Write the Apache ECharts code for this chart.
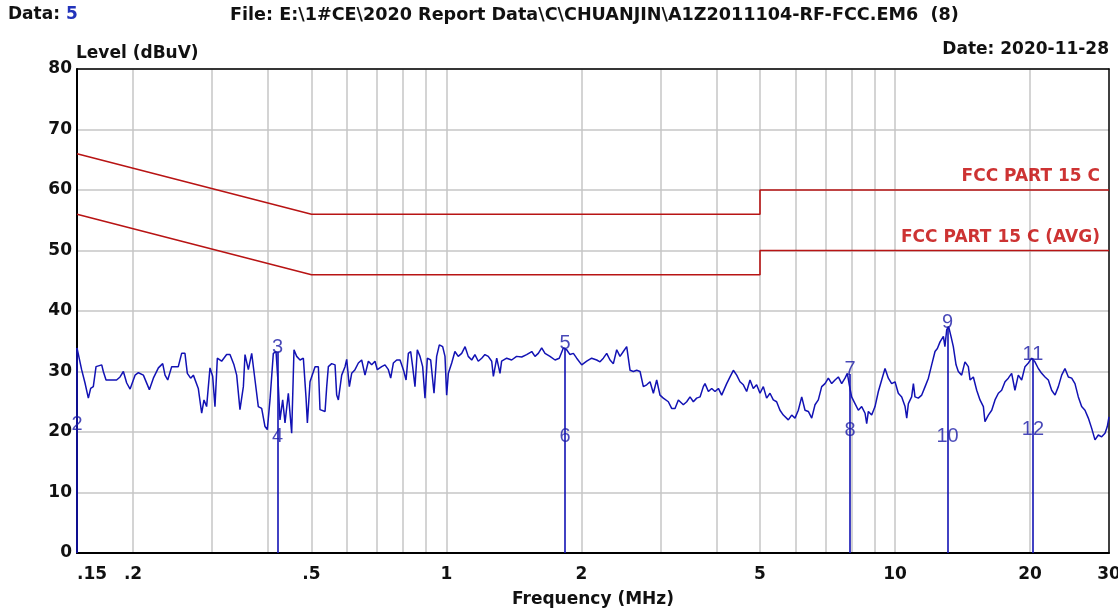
<!DOCTYPE html>
<html>
<head>
<meta charset="utf-8">
<script src="https://cdn.jsdelivr.net/npm/echarts@6/dist/echarts.min.js"></script>
<style>
html, body { margin: 0; padding: 0; background: #fff; }
#chart { width: 1118px; height: 613px; }
</style>
</head>
<body>
<div id="chart"></div>
<script>
// scan trace (MHz / dBuV)
const freqMHz = [
  0.150, 0.151, 0.1536, 0.1563, 0.159, 0.1609, 0.1631, 0.1654, 0.1703, 0.1717,
  0.1741, 0.1838, 0.1871, 0.1903, 0.1936, 0.197, 0.2021, 0.2056, 0.2109, 0.2175,
  0.222, 0.2278, 0.2329, 0.2357, 0.239, 0.2439, 0.2523, 0.2567, 0.2611, 0.2643,
  0.2688, 0.2726, 0.2796, 0.2845, 0.2879, 0.2918, 0.2969, 0.301, 0.3046, 0.3083,
  0.3152, 0.3234, 0.329, 0.3358, 0.3405, 0.3463, 0.3524, 0.3554, 0.3615, 0.3678,
  0.3741, 0.3805, 0.3871, 0.3938, 0.3985, 0.404, 0.411, 0.4167, 0.4217, 0.4253,
  0.4312, 0.4364, 0.4439, 0.4516, 0.457, 0.4634, 0.4714, 0.4795, 0.4862, 0.4895,
  0.4962, 0.5092, 0.5179, 0.5223, 0.536, 0.5406, 0.5452, 0.5546, 0.5642, 0.569,
  0.5739, 0.5838, 0.5939, 0.599, 0.6072, 0.6145, 0.6251, 0.636, 0.6469, 0.658,
  0.6695, 0.681, 0.6927, 0.701, 0.7169, 0.7292, 0.7419, 0.7508, 0.7611, 0.7744,
  0.7877, 0.8013, 0.8124, 0.8221, 0.832, 0.8404, 0.8505, 0.8607, 0.8727, 0.8847,
  0.8954, 0.9062, 0.9219, 0.9378, 0.9506, 0.9638, 0.9804, 0.9922, 1.0007, 1.0095,
  1.027, 1.044, 1.062, 1.081, 1.100, 1.118, 1.138, 1.157, 1.177, 1.198,
  1.218, 1.239, 1.261, 1.272, 1.294, 1.316, 1.327, 1.362, 1.397, 1.433,
  1.471, 1.509, 1.549, 1.575, 1.602, 1.630, 1.658, 1.701, 1.746, 1.784,
  1.822, 1.853, 1.885, 1.918, 1.951, 2.002, 2.054, 2.107, 2.162, 2.199,
  2.237, 2.276, 2.315, 2.355, 2.396, 2.437, 2.479, 2.522, 2.544, 2.566,
  2.610, 2.655, 2.701, 2.747, 2.795, 2.843, 2.892, 2.942, 2.992, 3.044,
  3.123, 3.177, 3.232, 3.288, 3.373, 3.432, 3.491, 3.551, 3.612, 3.675,
  3.738, 3.770, 3.836, 3.902, 3.969, 4.038, 4.107, 4.214, 4.287, 4.361,
  4.436, 4.512, 4.590, 4.669, 4.750, 4.831, 4.914, 5.000, 5.086, 5.173,
  5.263, 5.353, 5.445, 5.540, 5.636, 5.782, 5.883, 5.984, 6.087, 6.194,
  6.300, 6.408, 6.520, 6.632, 6.745, 6.863, 6.981, 7.101, 7.225, 7.349,
  7.475, 7.605, 7.736, 7.829, 7.908, 8.004, 8.143, 8.284, 8.427, 8.574,
  8.647, 8.721, 8.871, 9.025, 9.180, 9.338, 9.500, 9.663, 9.829, 10.00,
  10.17, 10.35, 10.53, 10.62, 10.71, 10.89, 10.99, 11.08, 11.27, 11.47,
  11.67, 11.87, 12.07, 12.28, 12.43, 12.60, 12.82, 12.92, 13.04, 13.17,
  13.33, 13.49, 13.68, 13.84, 14.08, 14.32, 14.57, 14.70, 14.95, 15.21,
  15.47, 15.74, 15.87, 16.15, 16.43, 16.71, 17.00, 17.29, 17.59, 17.89,
  18.20, 18.51, 18.83, 19.16, 19.49, 19.83, 20.17, 20.51, 20.87, 21.23,
  21.60, 21.97, 22.35, 22.74, 23.13, 23.53, 23.93, 24.35, 24.77, 25.19,
  25.63, 26.07, 26.52, 26.98, 27.45, 27.92, 28.40, 28.89, 29.39, 29.74,
  30.00
];
const levelDb = [
  33.9, 33.6, 30.3, 28.1, 25.6, 27.2, 27.5, 30.8, 31.1, 30.0,
  28.6, 28.6, 29.1, 30.0, 28.1, 27.1, 29.4, 29.8, 29.4, 27.0,
  28.9, 30.6, 31.3, 29.4, 28.6, 30.8, 30.8, 33.0, 33.0, 29.7,
  28.9, 29.4, 27.2, 23.1, 25.3, 24.2, 30.6, 29.2, 24.2, 32.2,
  31.7, 32.8, 32.8, 31.1, 29.4, 23.7, 27.5, 32.8, 30.3, 33.0,
  28.6, 24.2, 23.9, 20.9, 20.4, 25.3, 33.0, 33.3, 27.5, 22.0,
  25.3, 21.5, 26.4, 19.8, 33.6, 32.5, 31.9, 32.2, 25.6, 21.5,
  28.3, 30.8, 30.8, 23.7, 23.4, 27.5, 30.8, 31.3, 31.1, 26.1,
  25.3, 29.4, 30.8, 32.0, 27.5, 29.7, 30.3, 31.4, 31.9, 29.4,
  31.7, 31.1, 31.7, 30.3, 30.8, 31.1, 30.3, 28.9, 31.4, 31.9,
  31.9, 30.3, 28.6, 33.0, 33.3, 30.8, 27.5, 33.6, 32.5, 30.8,
  25.6, 32.2, 31.9, 26.4, 32.5, 34.4, 34.1, 32.5, 26.1, 29.7,
  31.4, 33.3, 32.5, 33.0, 34.1, 32.5, 31.9, 32.8, 31.7, 32.2,
  32.8, 32.5, 31.7, 29.2, 32.2, 29.7, 31.7, 32.2, 31.9, 32.5,
  32.4, 32.8, 33.3, 32.5, 33.0, 33.9, 33.0, 32.5, 31.9, 32.2,
  33.9, 33.6, 32.8, 33.0, 32.2, 31.1, 31.7, 32.2, 31.9, 31.6,
  32.2, 33.0, 31.9, 31.3, 33.6, 32.5, 33.3, 34.1, 34.1, 30.2,
  30.0, 30.2, 30.0, 27.5, 27.8, 28.3, 26.4, 28.6, 26.1, 25.6,
  25.0, 23.9, 23.9, 25.3, 24.5, 25.0, 25.8, 25.0, 25.6, 25.8,
  27.5, 28.0, 26.7, 27.2, 26.7, 27.2, 26.1, 28.0, 29.1, 30.2,
  29.4, 28.3, 27.8, 26.7, 28.6, 27.2, 27.8, 26.4, 27.5, 25.6,
  26.4, 25.3, 25.0, 23.6, 22.8, 22.0, 22.8, 22.3, 23.6, 25.8,
  23.6, 23.4, 22.3, 24.5, 25.3, 27.5, 28.0, 28.9, 28.0, 28.6,
  29.1, 28.0, 28.9, 29.7, 27.8, 25.8, 24.7, 23.6, 24.2, 23.1,
  21.4, 23.4, 22.8, 24.2, 26.7, 28.6, 30.5, 28.9, 28.0, 28.3,
  26.4, 25.8, 24.2, 22.3, 24.7, 25.8, 28.0, 25.8, 25.6, 26.1,
  27.5, 28.9, 31.1, 33.3, 33.8, 34.9, 35.8, 34.1, 36.9, 37.4,
  35.8, 34.1, 31.1, 30.0, 29.4, 31.6, 30.8, 28.6, 29.1, 26.9,
  25.3, 24.2, 21.7, 22.8, 23.6, 25.3, 26.4, 26.9, 28.3, 28.9,
  29.7, 26.9, 29.4, 28.6, 30.8, 31.4, 32.2, 31.6, 30.5, 29.7,
  29.1, 28.6, 26.9, 26.1, 27.5, 29.4, 30.5, 29.1, 28.9, 28.0,
  25.8, 24.2, 23.6, 22.3, 20.6, 18.7, 19.5, 19.2, 19.8, 20.9,
  22.5
];

// FCC part 15 C limits
const qpLimitFreq = [0.15, 0.5, 5, 5, 30];
const qpLimitLevel = [66, 56, 56, 60, 60];
const avgLimitFreq = [0.15, 0.5, 5, 5, 30];
const avgLimitLevel = [56, 46, 46, 50, 50];

// markers (QP peak / AVG reading)
const markerFreq = [0.15, 0.42, 1.837, 7.94, 13.1, 20.3];
const markerQp = [33.9, 33.3, 33.9, 29.6, 37.4, 32.2];
const markerAvg = [21.2, 19.3, 19.2, 20.3, 19.3, 20.4];
const markerQpText = ['', '3', '5', '7', '9', '11'];
const markerAvgText = ['2', '4', '6', '8', '10', '12'];

const xTickFreq = [0.15, 0.2, 0.5, 1, 2, 5, 10, 20, 30];
const xTickText = ['.15', '.2', '.5', '1', '2', '5', '10', '20', '30'];
const xGridFreq = [0.2, 0.3, 0.4, 0.5, 0.6, 0.7, 0.8, 0.9, 1, 2, 3, 4, 5, 6, 7, 8, 9, 10, 20];

const lg = Math.log10;
const BLUE = '#1212b4';
const MARK = '#1a1aa6';
const RED = '#c00000';
const LIMIT = '#b81414';
const FONT = '"DejaVu Sans", "Liberation Sans", Arial, sans-serif';
const BOLD = 'bold 17px ' + FONT;

const chart = echarts.init(document.getElementById('chart'));

function pairs(fs, vs) {
  return fs.map((f, i) => [lg(f), vs[i]]);
}

// plain frame axes for the top and right edges
const frameX = {
  type: 'value', position: 'top', min: lg(0.15), max: lg(30),
  axisLine: { show: true, onZero: false, lineStyle: { color: '#000', width: 1.5 } },
  axisTick: { show: false }, axisLabel: { show: false }, splitLine: { show: false }
};
const frameY = {
  type: 'value', position: 'right', min: 0, max: 80,
  axisLine: { show: true, onZero: false, lineStyle: { color: '#000', width: 1.5 } },
  axisTick: { show: false }, axisLabel: { show: false }, splitLine: { show: false }
};

chart.setOption({
  animation: false,
  backgroundColor: '#fff',
  grid: {
    left: 77, right: 9, top: 69, bottom: 60,
    outerBoundsMode: 'none',
    containLabel: false
  },
  xAxis: [{
    type: 'value',
    min: lg(0.15),
    max: lg(30),
    name: 'Frequency (MHz)',
    nameLocation: 'middle',
    nameGap: 38,
    nameTextStyle: { color: '#111', fontFamily: FONT, fontWeight: 'bold', fontSize: 17 },
    axisLine: { show: true, onZero: false, lineStyle: { color: '#000', width: 2 } },
    axisTick: { show: false, customValues: xGridFreq.map(lg) },
    splitLine: { show: true, lineStyle: { color: '#c6c6c6', width: 1.5 } },
    axisLabel: {
      customValues: xTickFreq.map(lg),
      color: '#111', fontFamily: FONT, fontWeight: 'bold', fontSize: 17,
      margin: 13,
      alignMinLabel: 'left',
      formatter: function (v) {
        let best = 0;
        xTickFreq.forEach((f, i) => {
          if (Math.abs(lg(f) - v) < Math.abs(lg(xTickFreq[best]) - v)) best = i;
        });
        return xTickText[best];
      }
    }
  }, frameX],
  yAxis: [{
    type: 'value',
    min: 0, max: 80, interval: 10,
    axisLine: { show: true, onZero: false, lineStyle: { color: '#000', width: 2 } },
    axisTick: { show: false },
    splitLine: { show: true, lineStyle: { color: '#c6c6c6', width: 1.5 } },
    axisLabel: { color: '#111', fontFamily: FONT, fontWeight: 'bold', fontSize: 17, margin: 5 }
  }, frameY],
  graphic: [
    {
      type: 'text', left: 8, top: 6,
      style: {
        text: 'Data: {n|5}',
        font: BOLD, fill: '#111',
        rich: { n: { fill: '#2233bb', font: BOLD } }
      }
    },
    {
      type: 'text', left: 230, top: 6,
      style: {
        text: 'File: E:\\1#CE\\2020 Report Data\\C\\CHUANJIN\\A1Z2011104-RF-FCC.EM6  (8)',
        font: 'bold 17.6px ' + FONT, fill: '#111'
      }
    },
    {
      type: 'text', left: 76, top: 45,
      style: { text: 'Level (dBuV)', font: BOLD, fill: '#111' }
    },
    {
      type: 'text', right: 9, top: 41,
      style: { text: 'Date: 2020-11-28', font: BOLD, fill: '#111' }
    }
  ],
  series: [
    {
      name: 'FCC PART 15 C',
      type: 'line',
      data: pairs(qpLimitFreq, qpLimitLevel),
      symbol: 'none',
      lineStyle: { color: LIMIT, width: 1.6 },
      z: 3
    },
    {
      name: 'FCC PART 15 C (AVG)',
      type: 'line',
      data: pairs(avgLimitFreq, avgLimitLevel),
      symbol: 'none',
      lineStyle: { color: LIMIT, width: 1.6 },
      z: 3
    },
    {
      name: 'Level',
      type: 'line',
      data: pairs(freqMHz, levelDb),
      symbol: 'none',
      lineStyle: { color: BLUE, width: 1.5 },
      markLine: {
        silent: true,
        symbol: ['none', 'none'],
        label: { show: false },
        lineStyle: { color: BLUE, width: 1.6, type: 'solid' },
        data: markerFreq.map((f, i) => [
          { coord: [lg(f), 0] },
          { coord: [lg(f), markerQp[i]] }
        ])
      },
      z: 4
    },
    {
      name: 'marker QP',
      type: 'scatter',
      symbolSize: 0,
      data: pairs(markerFreq, markerQp),
      label: {
        show: true, position: 'inside', offset: [0, -4],
        color: MARK, fontFamily: '"Liberation Sans", Arial, sans-serif', fontSize: 20,
        formatter: p => markerQpText[p.dataIndex]
      },
      z: 5
    },
    {
      name: 'marker AVG',
      type: 'scatter',
      symbolSize: 0,
      data: pairs(markerFreq, markerAvg),
      label: {
        show: true, position: 'inside',
        color: MARK, fontFamily: '"Liberation Sans", Arial, sans-serif', fontSize: 20,
        formatter: p => markerAvgText[p.dataIndex]
      },
      z: 5
    },
    {
      name: 'limit labels',
      type: 'scatter',
      symbolSize: 0,
      data: [[lg(30), qpLimitLevel[4]], [lg(30), avgLimitLevel[4]]],
      label: {
        show: true, position: 'left', distance: 9, offset: [0, -13],
        color: RED, fontFamily: FONT, fontWeight: 'bold', fontSize: 17,
        formatter: p => (p.dataIndex === 0 ? 'FCC PART 15 C' : 'FCC PART 15 C (AVG)')
      },
      z: 5
    }
  ]
});
</script>
</body>
</html>
